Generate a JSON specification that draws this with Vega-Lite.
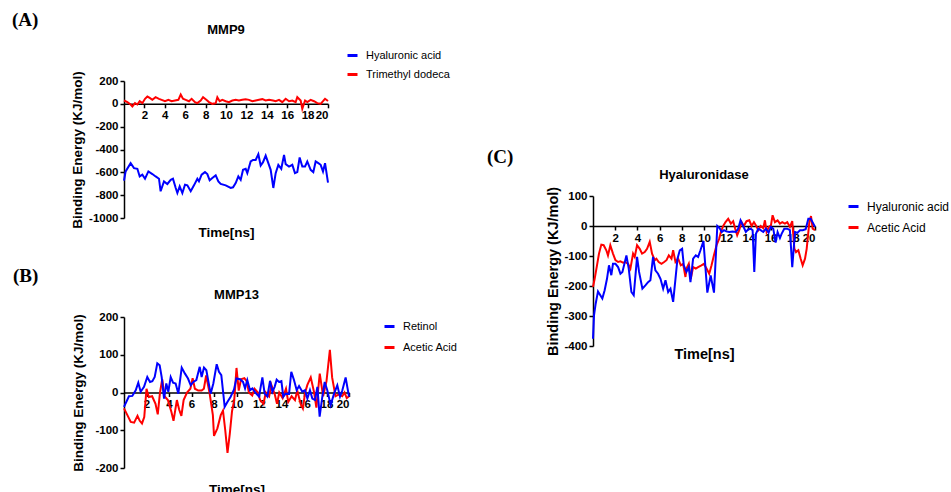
{
  "$schema": "https://vega.github.io/schema/vega-lite/v6.json",
  "padding": {"left": 12, "top": 10, "right": 0, "bottom": 0},
  "datasets": {
    "A_blue": [{"t":0,"v":-673},{"t":0.16,"v":-592},{"t":0.65,"v":-520},{"t":0.98,"v":-563},{"t":1.31,"v":-569},{"t":1.54,"v":-636},{"t":1.8,"v":-621},{"t":2.06,"v":-656},{"t":2.39,"v":-592},{"t":2.78,"v":-615},{"t":3.1,"v":-636},{"t":3.43,"v":-656},{"t":3.59,"v":-766},{"t":3.92,"v":-679},{"t":4.25,"v":-702},{"t":4.58,"v":-665},{"t":4.8,"v":-656},{"t":5.07,"v":-737},{"t":5.23,"v":-781},{"t":5.46,"v":-723},{"t":5.72,"v":-781},{"t":5.98,"v":-708},{"t":6.21,"v":-714},{"t":6.54,"v":-766},{"t":6.86,"v":-714},{"t":7.19,"v":-656},{"t":7.35,"v":-679},{"t":7.61,"v":-621},{"t":7.94,"v":-598},{"t":8.17,"v":-615},{"t":8.4,"v":-670},{"t":8.66,"v":-650},{"t":8.99,"v":-627},{"t":9.25,"v":-679},{"t":9.48,"v":-702},{"t":9.97,"v":-714},{"t":10.46,"v":-737},{"t":10.69,"v":-731},{"t":10.95,"v":-694},{"t":11.21,"v":-636},{"t":11.44,"v":-665},{"t":11.67,"v":-578},{"t":11.93,"v":-569},{"t":12.09,"v":-607},{"t":12.42,"v":-505},{"t":12.65,"v":-491},{"t":12.91,"v":-491},{"t":13.17,"v":-441},{"t":13.4,"v":-540},{"t":13.63,"v":-511},{"t":13.89,"v":-453},{"t":14.15,"v":-520},{"t":14.38,"v":-578},{"t":14.64,"v":-737},{"t":14.87,"v":-607},{"t":15.13,"v":-534},{"t":15.42,"v":-569},{"t":15.69,"v":-447},{"t":15.85,"v":-528},{"t":16.18,"v":-549},{"t":16.5,"v":-534},{"t":16.76,"v":-607},{"t":16.99,"v":-598},{"t":17.22,"v":-470},{"t":17.48,"v":-549},{"t":17.75,"v":-549},{"t":17.97,"v":-505},{"t":18.3,"v":-578},{"t":18.56,"v":-598},{"t":18.79,"v":-505},{"t":19.05,"v":-520},{"t":19.28,"v":-534},{"t":19.51,"v":-592},{"t":19.71,"v":-520},{"t":20,"v":-690}],
    "A_red": [{"t":0,"v":29},{"t":0.33,"v":15},{"t":0.65,"v":-6},{"t":0.82,"v":-23},{"t":1.08,"v":6},{"t":1.31,"v":-6},{"t":1.54,"v":23},{"t":1.8,"v":6},{"t":2.06,"v":44},{"t":2.29,"v":64},{"t":2.52,"v":52},{"t":2.78,"v":35},{"t":3.1,"v":58},{"t":3.43,"v":44},{"t":3.69,"v":35},{"t":4.02,"v":23},{"t":4.35,"v":35},{"t":4.67,"v":23},{"t":5,"v":29},{"t":5.33,"v":35},{"t":5.56,"v":81},{"t":5.78,"v":44},{"t":6.05,"v":35},{"t":6.37,"v":23},{"t":6.63,"v":44},{"t":6.96,"v":15},{"t":7.19,"v":6},{"t":7.52,"v":29},{"t":7.75,"v":58},{"t":8.07,"v":35},{"t":8.33,"v":15},{"t":8.66,"v":0},{"t":8.99,"v":6},{"t":9.15,"v":58},{"t":9.38,"v":23},{"t":9.64,"v":35},{"t":9.97,"v":23},{"t":10.29,"v":15},{"t":10.62,"v":29},{"t":10.95,"v":35},{"t":11.27,"v":29},{"t":11.6,"v":35},{"t":11.93,"v":41},{"t":12.25,"v":35},{"t":12.58,"v":23},{"t":12.91,"v":29},{"t":13.24,"v":35},{"t":13.56,"v":41},{"t":13.89,"v":29},{"t":14.22,"v":35},{"t":14.61,"v":29},{"t":14.87,"v":23},{"t":15.2,"v":35},{"t":15.52,"v":15},{"t":15.85,"v":44},{"t":16.18,"v":23},{"t":16.5,"v":29},{"t":16.83,"v":15},{"t":16.99,"v":58},{"t":17.32,"v":29},{"t":17.48,"v":-44},{"t":17.75,"v":29},{"t":17.97,"v":15},{"t":18.3,"v":35},{"t":18.63,"v":23},{"t":18.95,"v":6},{"t":19.28,"v":0},{"t":19.51,"v":23},{"t":19.71,"v":44},{"t":20,"v":25}],
    "B_blue": [{"t":0,"v":-38},{"t":0.44,"v":-10},{"t":0.74,"v":-9},{"t":1.04,"v":6},{"t":1.27,"v":26},{"t":1.48,"v":2},{"t":1.78,"v":15},{"t":2.07,"v":41},{"t":2.31,"v":28},{"t":2.52,"v":30},{"t":2.73,"v":41},{"t":2.96,"v":77},{"t":3.17,"v":72},{"t":3.35,"v":41},{"t":3.56,"v":-16},{"t":3.76,"v":24},{"t":3.94,"v":2},{"t":4.15,"v":41},{"t":4.36,"v":26},{"t":4.59,"v":24},{"t":4.83,"v":-3},{"t":5.13,"v":66},{"t":5.42,"v":50},{"t":5.69,"v":37},{"t":5.93,"v":19},{"t":6.16,"v":28},{"t":6.43,"v":33},{"t":6.73,"v":68},{"t":6.9,"v":41},{"t":7.11,"v":66},{"t":7.32,"v":59},{"t":7.7,"v":-3},{"t":7.94,"v":24},{"t":8.24,"v":75},{"t":8.44,"v":55},{"t":8.65,"v":46},{"t":8.95,"v":-38},{"t":9.19,"v":-25},{"t":9.48,"v":-11},{"t":9.78,"v":8},{"t":9.99,"v":37},{"t":10.31,"v":35},{"t":10.58,"v":28},{"t":10.76,"v":11},{"t":10.96,"v":33},{"t":11.2,"v":6},{"t":11.41,"v":11},{"t":11.7,"v":-1},{"t":12,"v":-11},{"t":12.3,"v":40},{"t":12.5,"v":-3},{"t":12.74,"v":-11},{"t":12.98,"v":31},{"t":13.19,"v":2},{"t":13.39,"v":15},{"t":13.57,"v":34},{"t":13.78,"v":28},{"t":13.99,"v":30},{"t":14.16,"v":-11},{"t":14.37,"v":-3},{"t":14.67,"v":-4},{"t":14.87,"v":55},{"t":15.11,"v":33},{"t":15.35,"v":6},{"t":15.56,"v":17},{"t":15.85,"v":2},{"t":16.09,"v":6},{"t":16.3,"v":-16},{"t":16.53,"v":6},{"t":16.74,"v":-16},{"t":16.98,"v":-20},{"t":17.19,"v":15},{"t":17.39,"v":-64},{"t":17.63,"v":-11},{"t":17.84,"v":28},{"t":18.07,"v":6},{"t":18.37,"v":-33},{"t":18.67,"v":-3},{"t":18.96,"v":19},{"t":19.2,"v":-11},{"t":19.41,"v":6},{"t":19.7,"v":40},{"t":20,"v":-11}],
    "B_red": [{"t":0,"v":-42},{"t":0.3,"v":-60},{"t":0.6,"v":-78},{"t":0.9,"v":-80},{"t":1.2,"v":-62},{"t":1.4,"v":-75},{"t":1.6,"v":-82},{"t":1.8,"v":-65},{"t":2.0,"v":10},{"t":2.2,"v":-12},{"t":2.5,"v":-10},{"t":2.8,"v":-30},{"t":3.0,"v":-58},{"t":3.2,"v":0},{"t":3.4,"v":35},{"t":3.6,"v":-10},{"t":3.9,"v":-20},{"t":4.2,"v":-50},{"t":4.4,"v":-75},{"t":4.7,"v":-20},{"t":4.9,"v":-45},{"t":5.1,"v":-62},{"t":5.3,"v":-20},{"t":5.6,"v":0},{"t":5.9,"v":10},{"t":6.1,"v":38},{"t":6.3,"v":10},{"t":6.6,"v":5},{"t":6.9,"v":5},{"t":7.1,"v":10},{"t":7.3,"v":45},{"t":7.6,"v":0},{"t":7.9,"v":-60},{"t":8.0,"v":-115},{"t":8.3,"v":-95},{"t":8.6,"v":-60},{"t":8.8,"v":-48},{"t":9.0,"v":-100},{"t":9.2,"v":-160},{"t":9.4,"v":-110},{"t":9.6,"v":-50},{"t":9.8,"v":-20},{"t":10.0,"v":65},{"t":10.2,"v":5},{"t":10.4,"v":35},{"t":10.7,"v":38},{"t":10.9,"v":30},{"t":11.1,"v":0},{"t":11.4,"v":-8},{"t":11.6,"v":10},{"t":11.9,"v":0},{"t":12.1,"v":-20},{"t":12.4,"v":-30},{"t":12.6,"v":0},{"t":12.9,"v":-10},{"t":13.1,"v":20},{"t":13.4,"v":-5},{"t":13.6,"v":-30},{"t":13.8,"v":0},{"t":14.1,"v":-15},{"t":14.4,"v":10},{"t":14.6,"v":-25},{"t":14.9,"v":-10},{"t":15.2,"v":-20},{"t":15.4,"v":5},{"t":15.7,"v":-30},{"t":15.9,"v":-42},{"t":16.1,"v":0},{"t":16.3,"v":20},{"t":16.6,"v":40},{"t":16.9,"v":0},{"t":17.1,"v":-40},{"t":17.4,"v":50},{"t":17.7,"v":-10},{"t":18.0,"v":30},{"t":18.3,"v":113},{"t":18.5,"v":40},{"t":18.8,"v":-10},{"t":19.1,"v":-5},{"t":19.4,"v":-10},{"t":19.6,"v":0},{"t":19.8,"v":-15},{"t":20,"v":-10}],
    "C_blue": [{"t":0,"v":-376},{"t":0.09,"v":-298},{"t":0.24,"v":-259},{"t":0.45,"v":-218},{"t":0.66,"v":-231},{"t":0.84,"v":-242},{"t":1.05,"v":-214},{"t":1.26,"v":-176},{"t":1.44,"v":-131},{"t":1.65,"v":-164},{"t":1.8,"v":-126},{"t":2.02,"v":-126},{"t":2.26,"v":-137},{"t":2.47,"v":-159},{"t":2.65,"v":-153},{"t":2.83,"v":-126},{"t":3.01,"v":-98},{"t":3.22,"v":-142},{"t":3.46,"v":-220},{"t":3.67,"v":-231},{"t":3.97,"v":-103},{"t":4.15,"v":-153},{"t":4.45,"v":-209},{"t":4.72,"v":-198},{"t":4.96,"v":-187},{"t":5.17,"v":-181},{"t":5.41,"v":-103},{"t":5.62,"v":-148},{"t":5.86,"v":-159},{"t":6.08,"v":-176},{"t":6.32,"v":-209},{"t":6.53,"v":-181},{"t":6.77,"v":-220},{"t":6.98,"v":-209},{"t":7.22,"v":-253},{"t":7.43,"v":-176},{"t":7.61,"v":-109},{"t":7.82,"v":-81},{"t":8.03,"v":-76},{"t":8.18,"v":-131},{"t":8.42,"v":-153},{"t":8.63,"v":-137},{"t":8.78,"v":-187},{"t":9.02,"v":-109},{"t":9.26,"v":-98},{"t":9.47,"v":-103},{"t":9.68,"v":-81},{"t":9.95,"v":-50},{"t":10.3,"v":-222},{"t":10.6,"v":-165},{"t":10.9,"v":-222},{"t":11.2,"v":0},{"t":11.4,"v":-7},{"t":11.6,"v":-20},{"t":11.8,"v":-14},{"t":12.0,"v":-18},{"t":12.27,"v":-20},{"t":12.57,"v":-18},{"t":12.87,"v":-20},{"t":13.08,"v":-9},{"t":13.29,"v":19},{"t":13.53,"v":0},{"t":13.77,"v":-20},{"t":13.98,"v":-11},{"t":14.2,"v":-9},{"t":14.38,"v":-14},{"t":14.53,"v":-153},{"t":14.68,"v":-26},{"t":14.89,"v":-9},{"t":15.1,"v":-14},{"t":15.34,"v":-20},{"t":15.58,"v":-9},{"t":15.82,"v":-22},{"t":16.03,"v":-3},{"t":16.24,"v":-9},{"t":16.45,"v":-55},{"t":16.63,"v":-20},{"t":16.84,"v":-40},{"t":16.99,"v":-26},{"t":17.23,"v":-9},{"t":17.5,"v":-9},{"t":17.74,"v":-14},{"t":17.95,"v":-137},{"t":18.2,"v":-20},{"t":18.41,"v":-23},{"t":18.65,"v":-14},{"t":18.89,"v":-14},{"t":19.16,"v":-11},{"t":19.4,"v":24},{"t":19.61,"v":24},{"t":19.85,"v":8},{"t":20,"v":-3}],
    "C_red": [{"t":0,"v":-203},{"t":0.15,"v":-176},{"t":0.36,"v":-131},{"t":0.54,"v":-92},{"t":0.75,"v":-62},{"t":0.96,"v":-64},{"t":1.2,"v":-81},{"t":1.35,"v":-98},{"t":1.56,"v":-64},{"t":1.8,"v":-92},{"t":2.02,"v":-114},{"t":2.26,"v":-120},{"t":2.47,"v":-118},{"t":2.71,"v":-122},{"t":2.92,"v":-120},{"t":3.16,"v":-126},{"t":3.37,"v":-142},{"t":3.61,"v":-92},{"t":3.76,"v":-103},{"t":3.97,"v":-64},{"t":4.21,"v":-76},{"t":4.42,"v":-92},{"t":4.66,"v":-87},{"t":4.87,"v":-76},{"t":5.11,"v":-53},{"t":5.32,"v":-92},{"t":5.56,"v":-114},{"t":5.71,"v":-109},{"t":5.92,"v":-120},{"t":6.17,"v":-126},{"t":6.41,"v":-120},{"t":6.62,"v":-114},{"t":6.83,"v":-98},{"t":7.07,"v":-109},{"t":7.22,"v":-81},{"t":7.43,"v":-120},{"t":7.67,"v":-109},{"t":7.91,"v":-131},{"t":8.12,"v":-126},{"t":8.33,"v":-170},{"t":8.42,"v":-142},{"t":8.63,"v":-126},{"t":8.81,"v":-176},{"t":9.02,"v":-137},{"t":9.26,"v":-142},{"t":9.47,"v":-137},{"t":9.77,"v":-131},{"t":9.98,"v":-126},{"t":10.23,"v":-142},{"t":10.47,"v":-159},{"t":10.68,"v":-131},{"t":10.89,"v":-98},{"t":11.13,"v":-64},{"t":11.37,"v":-42},{"t":11.52,"v":-20},{"t":11.73,"v":0},{"t":11.94,"v":13},{"t":12.18,"v":24},{"t":12.42,"v":8},{"t":12.63,"v":16},{"t":12.81,"v":-9},{"t":12.99,"v":-31},{"t":13.17,"v":-14},{"t":13.38,"v":13},{"t":13.59,"v":0},{"t":13.83,"v":16},{"t":14.08,"v":19},{"t":14.29,"v":0},{"t":14.5,"v":13},{"t":14.68,"v":2},{"t":14.89,"v":-14},{"t":15.1,"v":0},{"t":15.34,"v":-7},{"t":15.49,"v":19},{"t":15.64,"v":-20},{"t":15.85,"v":-3},{"t":16.03,"v":2},{"t":16.18,"v":36},{"t":16.39,"v":13},{"t":16.63,"v":19},{"t":16.84,"v":8},{"t":17.05,"v":13},{"t":17.29,"v":8},{"t":17.5,"v":13},{"t":17.74,"v":-3},{"t":17.95,"v":16},{"t":18.14,"v":-76},{"t":18.29,"v":-87},{"t":18.5,"v":-81},{"t":18.71,"v":-109},{"t":18.89,"v":-131},{"t":19.1,"v":-109},{"t":19.25,"v":-76},{"t":19.49,"v":13},{"t":19.64,"v":33},{"t":19.79,"v":-9},{"t":20,"v":-14}]
  },
  "resolve": {"scale": {"x": "independent", "y": "independent", "color": "independent"}},
  "spacing": 29,
  "hconcat": [
    {
      "spacing": 27,
      "resolve": {"scale": {"x": "independent", "y": "independent", "color": "independent"}},
      "vconcat": [
        {
          "title": {"text": "(A)", "anchor": "start", "frame": "bounds", "font": "Liberation Serif", "fontSize": 19, "fontWeight": "bold", "color": "black", "dx": -58, "offset": -6},
          "vconcat": [
            {
              "title": {"text": "MMP9", "frame": "group", "anchor": "middle", "offset": 34, "font": "Liberation Sans", "fontSize": 13, "fontWeight": "bold", "color": "black"},
              "width": 204, "height": 137,
              "layer": [
                {
                  "data": {"name": "A_red"},
                  "mark": {"type": "line", "strokeWidth": 2},
                  "encoding": {
                    "x": {"field": "t", "type": "quantitative", "scale": {"domain": [0, 20], "nice": false}, "axis": {"title": "Time[ns]", "offset": -114.2, "values": [2,4,6,8,10,12,14,16,18,20], "tickCount": 40, "labelOverlap": false, "labelExpr": "'' + datum.value", "titleY": 133, "titleBaseline": "alphabetic"}},
                    "y": {"field": "v", "type": "quantitative", "scale": {"domain": [-1000, 200], "nice": false}, "axis": {"title": "Binding Energy (KJ/mol)", "values": [-1000,-800,-600,-400,-200,0,200], "tickCount": 40, "labelOverlap": false, "labelExpr": "'' + datum.value", "titleX": -40}},
                    "color": {"datum": "Trimethyl dodeca", "type": "nominal", "scale": {"domain": ["Hyaluronic acid", "Trimethyl dodeca"], "range": ["#0000ff", "#ff0000"]}, "legend": {"title": null, "orient": "none", "legendX": 222, "legendY": -32, "rowPadding": 6}}
                  }
                },
                {
                  "data": {"name": "A_blue"},
                  "mark": {"type": "line", "strokeWidth": 2},
                  "encoding": {
                    "x": {"field": "t", "type": "quantitative"},
                    "y": {"field": "v", "type": "quantitative"},
                    "color": {"datum": "Hyaluronic acid", "type": "nominal"}
                  }
                }
              ]
            }
          ]
        },
        {
          "title": {"text": "(B)", "anchor": "start", "frame": "bounds", "font": "Liberation Serif", "fontSize": 19, "fontWeight": "bold", "color": "black", "dx": -58, "offset": 3},
          "vconcat": [
            {
              "title": {"text": "MMP13", "frame": "group", "anchor": "middle", "offset": 9, "font": "Liberation Sans", "fontSize": 13, "fontWeight": "bold", "color": "black"},
              "width": 225, "height": 151,
              "layer": [
                {
                  "data": {"name": "B_red"},
                  "mark": {"type": "line", "strokeWidth": 2},
                  "encoding": {
                    "x": {"field": "t", "type": "quantitative", "scale": {"domain": [0, 20], "nice": false}, "axis": {"title": "Time[ns]", "offset": -75.5, "values": [2,4,6,8,10,12,14,16,18,20], "tickCount": 40, "labelOverlap": false, "labelExpr": "'' + datum.value", "titleY": 101, "titleBaseline": "alphabetic"}},
                    "y": {"field": "v", "type": "quantitative", "scale": {"domain": [-200, 200], "nice": false}, "axis": {"title": "Binding Energy (KJ/mol)", "values": [-200,-100,0,100,200], "tickCount": 40, "labelOverlap": false, "labelExpr": "'' + datum.value", "titleX": -39}},
                    "color": {"datum": "Acetic Acid", "type": "nominal", "scale": {"domain": ["Retinol", "Acetic Acid"], "range": ["#0000ff", "#ff0000"]}, "legend": {"title": null, "orient": "none", "legendX": 259, "legendY": 3, "rowPadding": 8}}
                  }
                },
                {
                  "data": {"name": "B_blue"},
                  "mark": {"type": "line", "strokeWidth": 2},
                  "encoding": {
                    "x": {"field": "t", "type": "quantitative"},
                    "y": {"field": "v", "type": "quantitative"},
                    "color": {"datum": "Retinol", "type": "nominal"}
                  }
                }
              ]
            }
          ]
        }
      ]
    },
    {
      "spacing": 0,
      "resolve": {"scale": {"x": "independent", "y": "independent", "color": "independent"}},
      "vconcat": [
        {"data": {"values": []}, "mark": {"type": "point", "opacity": 0}, "width": 1, "height": 67},
        {
          "title": {"text": "(C)", "anchor": "start", "frame": "bounds", "font": "Liberation Serif", "fontSize": 19, "fontWeight": "bold", "color": "black", "dx": -58, "offset": 2},
          "vconcat": [
            {
              "title": {"text": "Hyaluronidase", "frame": "group", "anchor": "middle", "offset": 4, "font": "Liberation Sans", "fontSize": 13, "fontWeight": "bold", "color": "black"},
              "width": 222, "height": 150,
              "layer": [
                {
                  "data": {"name": "C_red"},
                  "mark": {"type": "line", "strokeWidth": 2},
                  "encoding": {
                    "x": {"field": "t", "type": "quantitative", "scale": {"domain": [0, 20], "nice": false}, "axis": {"title": "Time[ns]", "offset": -120, "values": [2,4,6,8,10,12,14,16,18,20], "tickCount": 40, "labelOverlap": false, "labelExpr": "'' + datum.value", "titleY": 132, "titleBaseline": "alphabetic", "titleFontSize": 14.5}},
                    "y": {"field": "v", "type": "quantitative", "scale": {"domain": [-400, 100], "nice": false}, "axis": {"title": "Binding Energy (KJ/mol)", "values": [-400,-300,-200,-100,0,100], "tickCount": 40, "labelOverlap": false, "labelExpr": "'' + datum.value", "titleX": -33, "titleFontSize": 14.5}},
                    "color": {"datum": "Acetic Acid", "type": "nominal", "scale": {"domain": ["Hyaluronic acid", "Acetic Acid"], "range": ["#0000ff", "#ff0000"]}, "legend": {"title": null, "orient": "none", "legendX": 254, "legendY": 4, "rowPadding": 8, "labelFontSize": 12}}
                  }
                },
                {
                  "data": {"name": "C_blue"},
                  "mark": {"type": "line", "strokeWidth": 2},
                  "encoding": {
                    "x": {"field": "t", "type": "quantitative"},
                    "y": {"field": "v", "type": "quantitative"},
                    "color": {"datum": "Hyaluronic acid", "type": "nominal"}
                  }
                }
              ]
            }
          ]
        }
      ]
    }
  ],
  "config": {
    "view": {"stroke": null},
    "font": "Liberation Sans",
    "axis": {"grid": false, "labelOverlap": false, "domainColor": "black", "domainWidth": 1.5, "tickColor": "black", "tickWidth": 1.5, "tickSize": 4, "labelFont": "Liberation Sans", "labelFontWeight": "bold", "labelFontSize": 11.5, "labelColor": "black", "labelPadding": 2, "titleFont": "Liberation Sans", "titleFontWeight": "bold", "titleFontSize": 13.5, "titleColor": "black"},
    "legend": {"symbolType": "stroke", "symbolStrokeWidth": 3, "symbolSize": 100, "labelFont": "Liberation Sans", "labelFontSize": 11, "labelColor": "black", "labelOffset": 7, "padding": 0}
  }
}
